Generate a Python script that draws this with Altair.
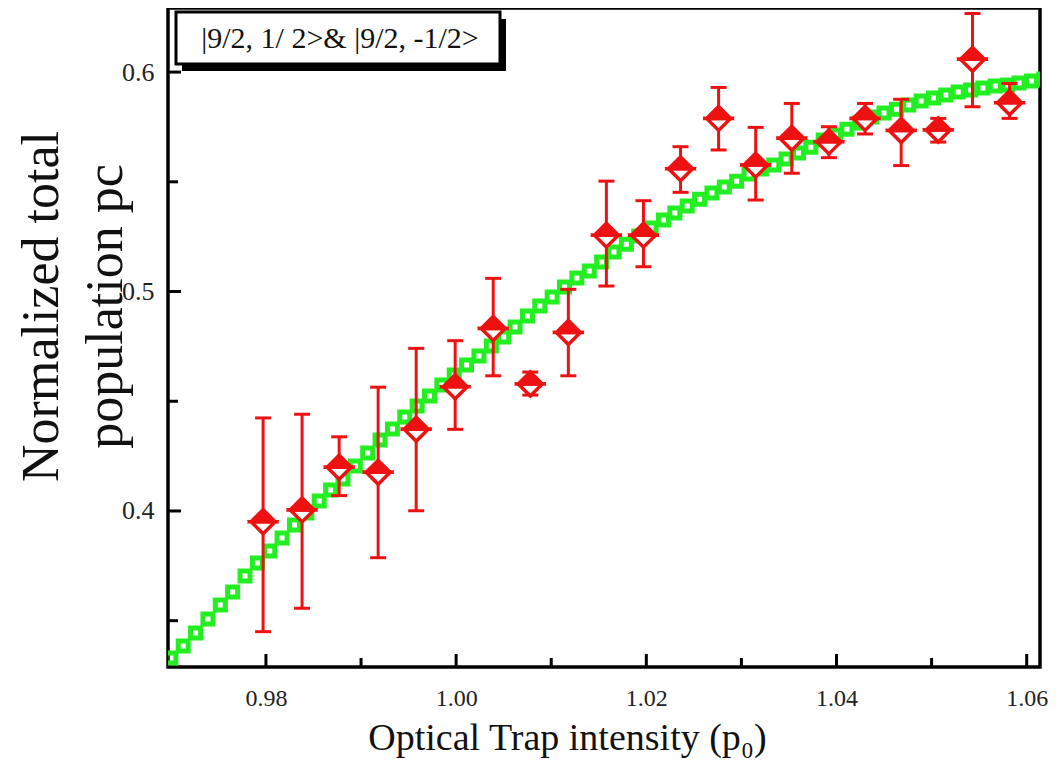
import altair as alt
import pandas as pd

# ---------------- data ----------------
meas_x = [0.9797, 0.9838, 0.9877, 0.9918, 0.9958, 0.9999, 1.0039, 1.0078, 1.0118, 1.0158, 1.0197,
          1.0236, 1.0276, 1.0315, 1.0353, 1.0392, 1.0430, 1.0468, 1.0507, 1.0543, 1.0582]
meas_y = [0.3951, 0.4005, 0.4199, 0.4176, 0.4372, 0.4566, 0.4832, 0.4579, 0.4813, 0.5257, 0.5257,
          0.5559, 0.5789, 0.5576, 0.5698, 0.5682, 0.5789, 0.5734, 0.5736, 0.6058, 0.5860]
meas_hi = [0.4424, 0.4441, 0.4338, 0.4564, 0.4741, 0.4776, 0.5060, 0.4633, 0.5010, 0.5503, 0.5414,
           0.5660, 0.5930, 0.5748, 0.5857, 0.5751, 0.5857, 0.5876, 0.5789, 0.6267, 0.5948]
meas_lo = [0.3450, 0.3557, 0.4070, 0.3787, 0.4001, 0.4372, 0.4616, 0.4528, 0.4616, 0.5025, 0.5113,
           0.5452, 0.5645, 0.5417, 0.5539, 0.5610, 0.5718, 0.5574, 0.5681, 0.5842, 0.5789]

fit_x = [0.9700, 0.9713, 0.9726, 0.9739, 0.9752, 0.9765, 0.9778, 0.9791, 0.9804, 0.9817, 0.9830, 0.9843,
         0.9856, 0.9868, 0.9881, 0.9894, 0.9907, 0.9920, 0.9933, 0.9946, 0.9959, 0.9972, 0.9985, 0.9998,
         1.0011, 1.0024, 1.0037, 1.0050, 1.0062, 1.0075, 1.0088, 1.0101, 1.0114, 1.0127, 1.0140, 1.0153,
         1.0166, 1.0179, 1.0192, 1.0205, 1.0218, 1.0230, 1.0243, 1.0256, 1.0269, 1.0282, 1.0295, 1.0308,
         1.0321, 1.0334, 1.0347, 1.0360, 1.0373, 1.0386, 1.0399, 1.0411, 1.0424, 1.0437, 1.0450, 1.0463,
         1.0476, 1.0489, 1.0502, 1.0515, 1.0528, 1.0541, 1.0554, 1.0567, 1.0580, 1.0592, 1.0605, 1.0618]
fit_y = [0.3330, 0.3385, 0.3444, 0.3508, 0.3572, 0.3631, 0.3704, 0.3763, 0.3818, 0.3877, 0.3936, 0.3991,
         0.4046, 0.4096, 0.4146, 0.4205, 0.4264, 0.4323, 0.4374, 0.4428, 0.4478, 0.4524, 0.4574, 0.4620,
         0.4665, 0.4706, 0.4752, 0.4793, 0.4838, 0.4888, 0.4934, 0.4975, 0.5021, 0.5062, 0.5093, 0.5134,
         0.5180, 0.5216, 0.5253, 0.5289, 0.5326, 0.5358, 0.5390, 0.5421, 0.5449, 0.5476, 0.5503, 0.5535,
         0.5558, 0.5576, 0.5604, 0.5631, 0.5658, 0.5690, 0.5713, 0.5740, 0.5768, 0.5795, 0.5813, 0.5831,
         0.5850, 0.5868, 0.5882, 0.5895, 0.5909, 0.5918, 0.5927, 0.5936, 0.5941, 0.5950, 0.5959, 0.5968]

x_major = [0.98, 1.00, 1.02, 1.04, 1.06]
x_minor = [0.99, 1.01, 1.03, 1.05]
y_major = [0.4, 0.5, 0.6]
y_minor = [0.35, 0.45, 0.55]

legend_text = "|9/2, 1/ 2>&  |9/2, -1/2>"
x_title = "Optical Trap intensity (p\u2080)"
y_title = ["Normalized total", "population pc"]

# ---------------- styling ----------------
W, H = 872, 659
X_MIN, X_MAX = 0.9697, 1.0614
Y_MIN, Y_MAX = 0.3289, 0.6292
RED = "#ee1111"
GREEN = "#22ee22"
FONT = "Liberation Serif"

xs = alt.Scale(domain=[X_MIN, X_MAX], nice=False, zero=False)
ys = alt.Scale(domain=[Y_MIN, Y_MAX], nice=False, zero=False)

x_axis = alt.Axis(values=x_major, format=".2f", grid=False, domain=False, ticks=False, tickSize=0,
                  labelFont=FONT, labelFontSize=24, labelColor="#222", labelPadding=19,
                  labelFlush=False, labelOverlap=False,
                  title=x_title, titleFont=FONT, titleFontSize=38, titleFontWeight="normal",
                  titleColor="#111", titleX=399, titleY=82, titleAlign="center",
                  titleBaseline="alphabetic")
y_axis = alt.Axis(values=y_major, format=".1f", grid=False, domain=False, ticks=False, tickSize=0,
                  labelFont=FONT, labelFontSize=26, labelColor="#222", labelPadding=14,
                  labelOverlap=False,
                  title=y_title, titleFont=FONT, titleFontSize=52, titleFontWeight="normal",
                  titleColor="#111", titleX=-127, titleY=298, titleAlign="center",
                  titleBaseline="middle", titleLineHeight=64, titleAngle=270)


def X(field):
    return alt.X(field, scale=xs, axis=x_axis)


def Y(field):
    return alt.Y(field, scale=ys, axis=y_axis)


meas = pd.DataFrame({"x": meas_x, "y": meas_y, "lo": meas_lo, "hi": meas_hi})
fit = pd.DataFrame({"x": fit_x, "y": fit_y})

curve = alt.Chart(fit).mark_point(shape="square", filled=False, size=100, strokeWidth=5,
                                  color=GREEN, opacity=1, clip=True).encode(
    x=X("x:Q"), y=Y("y:Q"))

xmaj = alt.Chart(pd.DataFrame({"x": x_major})).mark_rule(color="black", strokeWidth=3).encode(
    x=X("x:Q"), y=alt.value(H), y2=alt.value(H - 13))
xmin = alt.Chart(pd.DataFrame({"x": x_minor})).mark_rule(color="black", strokeWidth=3).encode(
    x=X("x:Q"), y=alt.value(H), y2=alt.value(H - 9))
ymaj = alt.Chart(pd.DataFrame({"y": y_major})).mark_rule(color="black", strokeWidth=3).encode(
    y=Y("y:Q"), x=alt.value(0), x2=alt.value(13))
ymin = alt.Chart(pd.DataFrame({"y": y_minor})).mark_rule(color="black", strokeWidth=3).encode(
    y=Y("y:Q"), x=alt.value(0), x2=alt.value(10))

err = alt.Chart(meas).mark_rule(color=RED, strokeWidth=3).encode(
    x=X("x:Q"), y=Y("lo:Q"), y2="hi:Q")
cap_lo = alt.Chart(meas).mark_tick(color=RED, orient="horizontal", size=16, thickness=3, opacity=1).encode(
    x=X("x:Q"), y=Y("lo:Q"))
cap_hi = alt.Chart(meas).mark_tick(color=RED, orient="horizontal", size=16, thickness=3, opacity=1).encode(
    x=X("x:Q"), y=Y("hi:Q"))

dia_bottom = alt.Chart(meas).mark_point(shape="M-1,0L0,1L1,0Z", filled=True, fill="white",
                                        stroke=RED, strokeWidth=3.5, size=576, fillOpacity=1,
                                        strokeOpacity=1, opacity=1).encode(
    x=X("x:Q"), y=Y("y:Q"))
dia_top = alt.Chart(meas).mark_point(shape="M-1,0L0,-1L1,0Z M-1.3,0L1.3,0", filled=True, fill=RED,
                                     stroke=RED, strokeWidth=3.5, size=576, fillOpacity=1,
                                     strokeOpacity=1, opacity=1).encode(
    x=X("x:Q"), y=Y("y:Q"))

one = pd.DataFrame({"k": [0]})
shadow = alt.Chart(one).mark_rect(color="black").encode(
    x=alt.value(14), x2=alt.value(338), y=alt.value(11), y2=alt.value(63))
box = alt.Chart(one).mark_rect(fill="white", stroke="black", strokeWidth=3).encode(
    x=alt.value(8), x2=alt.value(332), y=alt.value(4), y2=alt.value(56))
label = alt.Chart(one).mark_text(font=FONT, fontSize=30, color="#111", align="center",
                                 baseline="middle").encode(
    x=alt.value(172), y=alt.value(31), text=alt.value(legend_text))

chart = alt.layer(curve, xmaj, xmin, ymaj, ymin, err, cap_lo, cap_hi, dia_bottom, dia_top,
                  shadow, box, label).properties(
    width=W, height=H,
    padding={"left": 160, "top": 0, "right": 10, "bottom": 91},
    autosize=alt.AutoSizeParams(type="none"),
    background="white",
).configure_view(stroke="black", strokeWidth=3.5)

chart.save("out.html", embed_options={"renderer": "svg", "actions": False})
